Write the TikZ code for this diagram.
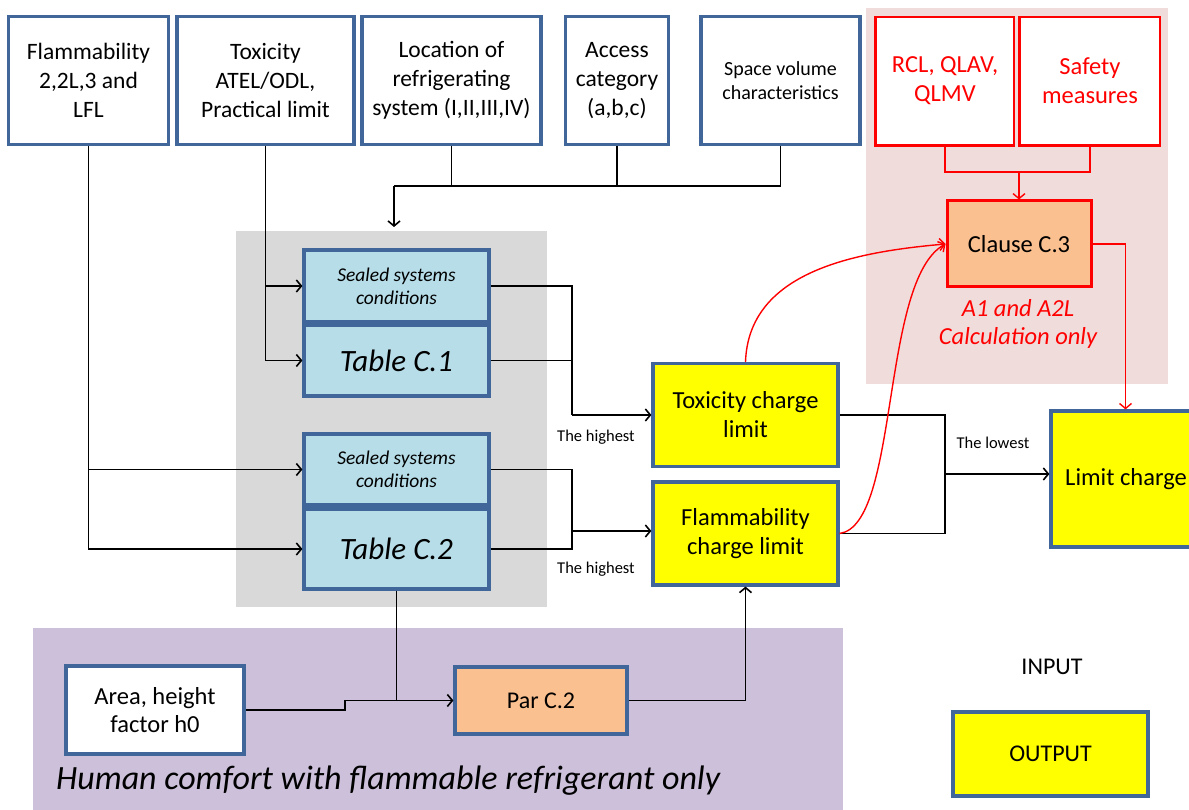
\documentclass[tikz,border=0pt]{standalone}
\usepackage{fontspec}
\setmainfont{Carlito}
\usetikzlibrary{arrows.meta}
\definecolor{bblue}{HTML}{41669A}
\definecolor{lblue}{HTML}{B7DDE8}
\definecolor{yel}{HTML}{FFFF00}
\definecolor{orng}{HTML}{FAC090}
\definecolor{gbg}{HTML}{D9D9D9}
\definecolor{pbg}{HTML}{CCC0DA}
\definecolor{rbg}{HTML}{F0DCDB}
\definecolor{rd}{HTML}{FF0000}
\tikzset{
  box/.style={draw=bblue, line width=3.2pt, align=center, inner sep=0pt, minimum width=#1},
  inbox/.style={box=#1, fill=white, minimum height=128pt, font=\fontsize{23.5}{29}\selectfont},
  redbox/.style={draw=rd, line width=1.2pt, fill=white, align=center, inner sep=0pt, minimum width=140pt, minimum height=128pt, text=rd, font=\fontsize{24.5}{29}\selectfont},
  rededge/.style={draw=rd, line width=3.2pt},
  bluebox/.style={box=185pt, fill=lblue, font=\itshape},
  yelbox/.style={box=185pt, fill=yel, minimum height=103pt, font=\fontsize{24.5}{29}\selectfont},
  conn/.style={line width=1.6pt, black},
  arr/.style={conn, -{Straight Barb[length=5pt,width=12pt,line width=1.6pt]}},
  rconn/.style={line width=1.4pt, rd},
  rarr/.style={rconn, -{Straight Barb[length=5pt,width=12pt,line width=1.4pt]}},
  lbl/.style={font=\fontsize{16.5}{19}\selectfont, inner sep=0pt},
}
\begin{document}
\begin{tikzpicture}[x=1pt,y=-1pt]
\useasboundingbox (0,0) rectangle (1189,810);
% backgrounds
\fill[rbg] (866,8) rectangle (1168,384);
\fill[gbg] (236,231) rectangle (547,607);
\fill[pbg] (33,628) rectangle (843,810);

% top inputs
\node[inbox=160pt] (flam) at (88.5,80.5) {Flammability\\2,2L,3 and\\LFL};
\node[inbox=177pt] (tox) at (265.5,80.5) {Toxicity\\ATEL/ODL,\\Practical limit};
\node[inbox=179pt] (loc) at (451.5,80.5) {Location of\\refrigerating\\system (I,II,III,IV)};
\node[inbox=103pt] (acc) at (617,80.5) {Access\\category\\(a,b,c)};
\node[inbox=159pt, font=\fontsize{20}{24}\selectfont] (space) at (780.5,80.5) {Space volume\\characteristics};
\node[redbox, minimum width=138pt] (rcl) at (945,81) {RCL, QLAV,\\QLMV};
\node[redbox] (safe) at (1090,81) {Safety\\measures};
\draw[rededge] (rcl.north west) -- (rcl.south west) -- (rcl.south east);
\draw[rededge] (safe.north west) -- (safe.south west) -- (safe.south east);

% clause
\node[draw=rd, line width=3pt, fill=orng, minimum width=144pt, minimum height=86pt, inner sep=0pt, font=\fontsize{24.5}{29}\selectfont] (clause) at (1019,244) {Clause C.3};
\node[text=rd, align=center, font=\fontsize{24.5}{28}\selectfont\itshape] (calc) at (1018,324) {A1 and A2L\\Calculation only};

% blue tables
\node[bluebox, minimum height=72pt, font=\fontsize{19.5}{23}\selectfont\itshape] (seal1) at (396.5,286) {Sealed systems\\conditions};
\node[bluebox, minimum height=71pt, font=\fontsize{31}{34}\selectfont\itshape] (tab1) at (396.5,360.5) {Table C.1};
\node[bluebox, minimum height=71pt, font=\fontsize{19.5}{23}\selectfont\itshape] (seal2) at (396.5,469.5) {Sealed systems\\conditions};
\node[bluebox, minimum height=80pt, font=\fontsize{31}{34}\selectfont\itshape] (tab2) at (396.5,549) {Table C.2};

% outputs
\node[yelbox] (toxl) at (745.5,415) {Toxicity charge\\limit};
\node[yelbox] (flaml) at (745.5,533.5) {Flammability\\charge limit};
\node[box=141pt, fill=yel, minimum height=136pt, font=\fontsize{24.5}{29}\selectfont] (limit) at (1121.5,479) {\hspace*{9pt}Limit charge};

% bottom
\node[box=178pt, fill=white, minimum height=88pt, font=\fontsize{24.5}{28}\selectfont] (area) at (155,710) {Area, height\\factor h0};
\node[box=172pt, fill=orng, minimum height=67pt, font=\fontsize{24}{28}\selectfont] (par) at (541,700.5) {Par C.2};
\node[anchor=west, inner sep=0pt, font=\fontsize{34}{40}\selectfont\itshape] (human) at (56,781) {Human comfort with flammable refrigerant only};

% legend
\node[inner sep=0pt, font=\fontsize{24}{28}\selectfont] (input) at (1052,667) {INPUT};
\node[box=195pt, fill=yel, minimum height=84pt, font=\fontsize{24}{28}\selectfont] (output) at (1050.5,754) {OUTPUT};

% labels
\node[lbl] (hi1) at (596,437) {The highest};
\node[lbl] (hi2) at (596,569) {The highest};
\node[lbl] (lo) at (993,443) {The lowest};

% coordinates
\coordinate (j1) at (394,186);
\coordinate (j1e) at (394,227);
\coordinate (m1) at (572,415);
\coordinate (m2) at (572,531);
\coordinate (m3) at (945,474);
\coordinate (rj) at (1019,172);
\coordinate (aj) at (345,710);

% connectors: inputs
\draw[arr] (tox.south) |- (seal1.west);
\draw[arr] (tox.south) |- (tab1.west);
\draw[arr] (flam.south) |- (seal2.west);
\draw[arr] (flam.south) |- (tab2.west);
\draw[conn] (loc.south) -- (loc.south |- j1);
\draw[conn] (acc.south) -- (acc.south |- j1);
\draw[conn] (space.south) -- (space.south |- j1) -- (j1);
\draw[arr] (j1) -- (j1e);

% tables to charges
\draw[conn] (seal1.east) -| (m1);
\draw[conn] (tab1.east) -| (m1);
\draw[arr] (m1) -- (m1 -| toxl.west);
\draw[conn] (seal2.east) -| (m2);
\draw[conn] (tab2.east) -| (m2);
\draw[arr] (m2) -- (m2 -| flaml.west);

% charges to limit
\draw[conn] (toxl.east) -| (m3);
\draw[conn] (flaml.east) -| (m3);
\draw[arr] (m3) -- (m3 -| limit.west);

% bottom
\draw[conn] (tab2.south) -- (tab2.south |- par.west);
\draw[arr] (area.east) -- (aj) |- (par.west);
\draw[arr] (par.east) -| (flaml.south);

% red
\draw[rconn] (rcl.south) |- (safe.south |- rj) -- (safe.south);
\draw[rarr] (rj) -- (clause.north);
\draw[rarr] (clause.east) -| ([xshift=4pt]limit.north);
\draw[rarr] (toxl.north) to[out=88,in=185] (clause.west);
\draw[rarr] (flaml.east) .. controls (900,525) and (880,280) .. (clause.west);
\end{tikzpicture}
\end{document}
